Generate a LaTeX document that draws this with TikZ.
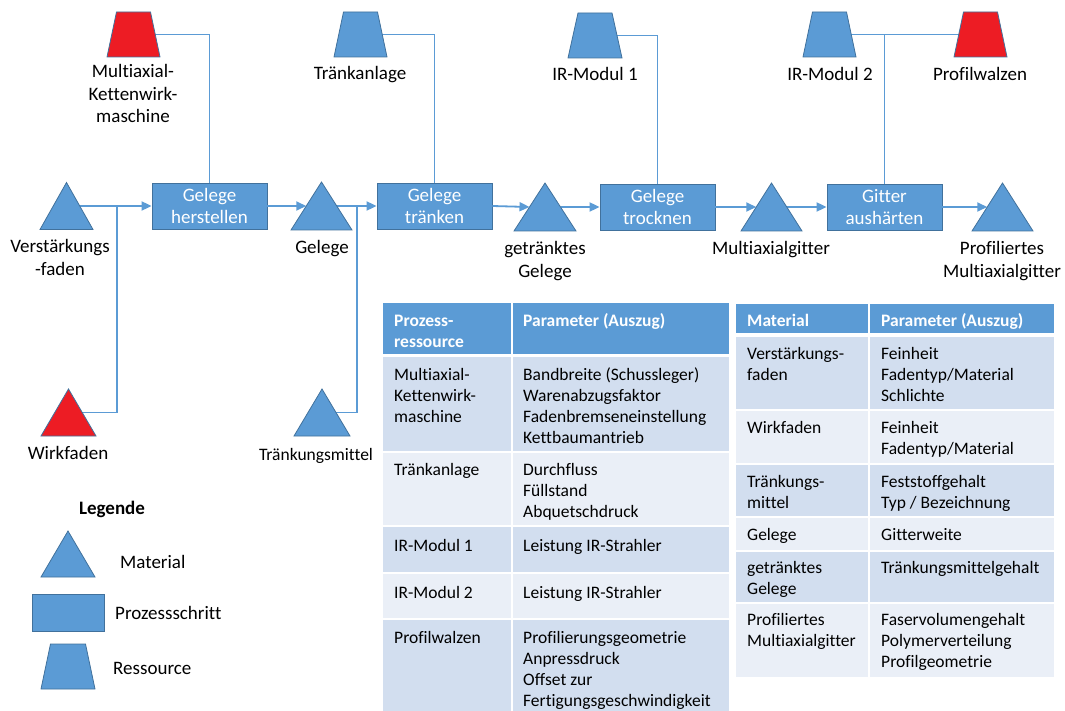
\documentclass[tikz,border=0pt]{standalone}
\usepackage{fontspec}
\setmainfont[Ligatures={NoCommon,NoRequired,NoContextual}]{Carlito}
\usetikzlibrary{arrows.meta,calc}
\definecolor{sb}{HTML}{5B9BD5}
\definecolor{so}{HTML}{41719C}
\definecolor{sr}{HTML}{ED1C24}
\definecolor{rowd}{HTML}{D2DEEF}
\definecolor{rowl}{HTML}{EAEFF7}
\newcommand\dfs{\fontsize{17.5pt}{21pt}\selectfont}
\newcommand\lfs{\fontsize{19pt}{22.5pt}\selectfont}
\begin{document}
\begin{tikzpicture}[x=1pt,y=-1pt,font=\dfs,
  hold/.style 2 args={inner sep=0pt,outer sep=0pt,minimum width=#1,minimum height=#2},
  shpfill/.style={fill=#1,draw=so,line width=0.8pt,line join=miter},
  proc/.style={draw=so,fill=sb,line width=0.8pt,text=white,minimum width=115pt,minimum height=46pt,inner sep=0pt,align=center,font=\lfs},
  flow/.style={draw=sb,line width=1.8pt,-{Triangle[length=10pt,width=9pt]}},
  feed/.style={draw=sb,line width=1.8pt},
  res/.style={draw=sb,line width=1.2pt},
  lbl/.style={anchor=base,align=center,inner sep=0pt,font=\lfs},
  tl/.style={anchor=base west,align=left,inner sep=0pt},
  th/.style={tl,text=white,font=\dfs\bfseries}]
\useasboundingbox (0,0) rectangle (1065,711);

% ---------- holders for materials and resources ----------
\node[hold={53pt}{47pt}] (vf) at (66.5,206) {};
\node[hold={61pt}{48pt}] (gel) at (321.5,206) {};
\node[hold={62pt}{48pt}] (gg) at (545,207) {};
\node[hold={61pt}{48pt}] (mg) at (771.5,207) {};
\node[hold={61pt}{48pt}] (pm) at (1002.5,207) {};
\node[hold={55pt}{47pt}] (wf) at (68.5,412.5) {};
\node[hold={56pt}{47pt}] (tm) at (322,412.5) {};
\node[hold={54pt}{46pt}] (lm) at (68,554) {};

\node[hold={53pt}{45pt}] (mk) at (133.5,34.5) {};
\node[hold={53pt}{45pt}] (tk) at (360.5,34.5) {};
\node[hold={54pt}{45pt}] (ir1) at (595,35.5) {};
\node[hold={53pt}{45pt}] (ir2) at (829.5,34.5) {};
\node[hold={53pt}{45pt}] (pw) at (980.5,34.5) {};
\node[hold={54pt}{45pt}] (lr) at (68,666.5) {};

% ---------- process steps ----------
\node[proc] (gh) at (209.5,206) {Gelege\\herstellen};
\node[proc] (gt) at (434.5,206) {Gelege\\tränken};
\node[proc] (gtr) at (657.5,207) {Gelege\\trocknen};
\node[proc] (ga) at (884.5,207) {Gitter\\aushärten};

% ---------- connectors ----------
\coordinate (j1) at (117,206);
\coordinate (j2) at (357,206);
\draw[flow] ($(vf.north)!0.5!(vf.south east)$) -- (gh.west);
\draw[feed] ($(wf.north)!0.5!(wf.south east)$) -| (j1);
\draw[flow] (gh.east) -- ($(gel.north)!0.5!(gel.south west)$);
\draw[flow] ($(gel.north)!0.5!(gel.south east)$) -- (gt.west);
\draw[feed] ($(tm.north)!0.5!(tm.south east)$) -| (j2);
\draw[flow] (gt.east) -- ($(gg.north)!0.5!(gg.south west)$);
\draw[flow] ($(gg.north)!0.5!(gg.south east)$) -- (gtr.west);
\draw[flow] (gtr.east) -- ($(mg.north)!0.5!(mg.south west)$);
\draw[flow] ($(mg.north)!0.5!(mg.south east)$) -- (ga.west);
\draw[flow] (ga.east) -- ($(pm.north)!0.5!(pm.south west)$);

\draw[res] ($(mk.south east)!0.5!([xshift=-9.5pt]mk.north east)$) -| (gh.north);
\draw[res] ($(tk.south east)!0.5!([xshift=-9.5pt]tk.north east)$) -| (gt.north);
\draw[res] ($(ir1.south east)!0.5!([xshift=-10pt]ir1.north east)$) -| (gtr.north);
\draw[res] ($(ir2.south east)!0.5!([xshift=-9.5pt]ir2.north east)$) -- ($(pw.south west)!0.5!([xshift=9.5pt]pw.north west)$);
\draw[res] (ga.north) -- (ga.north |- ir2.center);

% ---------- shapes ----------
\foreach \n in {vf,gel,gg,mg,pm,tm,lm}
  \draw[shpfill=sb] (\n.south west) -- (\n.north) -- (\n.south east) -- cycle;
\draw[shpfill=sr] (wf.south west) -- (wf.north) -- (wf.south east) -- cycle;
\foreach \n in {tk,ir2,lr}
  \draw[shpfill=sb] (\n.south west) -- ([xshift=9.5pt]\n.north west) -- ([xshift=-9.5pt]\n.north east) -- (\n.south east) -- cycle;
\draw[shpfill=sb] (ir1.south west) -- ([xshift=10pt]ir1.north west) -- ([xshift=-10pt]ir1.north east) -- (ir1.south east) -- cycle;
\foreach \n in {mk,pw}
  \draw[shpfill=sr] (\n.south west) -- ([xshift=9.5pt]\n.north west) -- ([xshift=-9.5pt]\n.north east) -- (\n.south east) -- cycle;

% ---------- labels (base = baseline of last line) ----------
\node[lbl] (l-mk) at (133,123) {Multiaxial-\\Kettenwirk-\\maschine};
\node[lbl] (l-tk) at (360,80) {Tränkanlage};
\node[lbl] (l-ir1) at (595,81) {IR-Modul 1};
\node[lbl] (l-ir2) at (830,81) {IR-Modul 2};
\node[lbl] (l-pw) at (980,81) {Profilwalzen};
\node[lbl] (l-vf) at (60,275.5) {Verstärkungs\\-faden};
\node[lbl] (l-gel) at (322,254) {Gelege};
\node[lbl] (l-gg) at (545,277.5) {getränktes\\Gelege};
\node[lbl] (l-mg) at (771,255) {Multiaxialgitter};
\node[lbl] (l-pm) at (1002,277.5) {Profiliertes\\Multiaxialgitter};
\node[lbl] (l-wf) at (68,459) {Wirkfaden};
\node[lbl,font=\dfs] (l-tm) at (316,460) {Tränkungsmittel};

% ---------- legend ----------
\node[lbl,font=\lfs\bfseries] (leg) at (112,514) {Legende};
\node[proc,minimum width=72pt,minimum height=37pt] (lp) at (68,612.5) {};
\node[tl,font=\lfs] (leg-m) at (120,568) {Material};
\node[tl,font=\lfs] (leg-p) at (115,619) {Prozessschritt};
\node[tl,font=\lfs] (leg-r) at (113,674) {Ressource};

% ---------- left table ----------
\fill[sb] (383,303) rectangle (511,354);
\fill[sb] (513,303) rectangle (729,354);
\fill[rowd] (383,357) rectangle (511,451);
\fill[rowd] (513,357) rectangle (729,451);
\fill[rowl] (383,453) rectangle (511,525);
\fill[rowl] (513,453) rectangle (729,525);
\fill[rowd] (383,527) rectangle (511,572);
\fill[rowd] (513,527) rectangle (729,572);
\fill[rowl] (383,574) rectangle (511,618);
\fill[rowl] (513,574) rectangle (729,618);
\fill[rowd] (383,620) rectangle (511,711);
\fill[rowd] (513,620) rectangle (729,711);

\node[th] (a0) at (394,347) {Prozess-\\ressource};
\node[th] (b0) at (523,326) {Parameter (Auszug)};
\node[tl] (a1) at (394,422) {Multiaxial-\\Kettenwirk-\\maschine};
\node[tl] (b1) at (523,443) {Bandbreite (Schussleger)\\Warenabzugsfaktor\\Fadenbremseneinstellung\\Kettbaumantrieb};
\node[tl] (a2) at (394,475) {Tränkanlage};
\node[tl] (b2) at (523,517) {Durchfluss\\Füllstand\\Abquetschdruck};
\node[tl] (a3) at (394,551) {IR-Modul 1};
\node[tl] (b3) at (523,551) {Leistung IR-Strahler};
\node[tl] (a4) at (394,598) {IR-Modul 2};
\node[tl] (b4) at (523,598) {Leistung IR-Strahler};
\node[tl] (a5) at (394,643) {Profilwalzen};
\node[tl] (b5) at (523,706) {Profilierungsgeometrie\\Anpressdruck\\Offset zur\\Fertigungsgeschwindigkeit};

% ---------- right table ----------
\fill[sb] (736,304) rectangle (868,333);
\fill[sb] (870,304) rectangle (1054,333);
\fill[rowd] (736,337) rectangle (868,409);
\fill[rowd] (870,337) rectangle (1054,409);
\fill[rowl] (736,411) rectangle (868,463);
\fill[rowl] (870,411) rectangle (1054,463);
\fill[rowd] (736,465) rectangle (868,516);
\fill[rowd] (870,465) rectangle (1054,516);
\fill[rowl] (736,518) rectangle (868,550);
\fill[rowl] (870,518) rectangle (1054,550);
\fill[rowd] (736,552) rectangle (868,602);
\fill[rowd] (870,552) rectangle (1054,602);
\fill[rowl] (736,604) rectangle (868,677);
\fill[rowl] (870,604) rectangle (1054,677);

\node[th] (c0) at (747,326) {Material};
\node[th] (d0) at (881,326) {Parameter (Auszug)};
\node[tl] (c1) at (747,380) {Verstärkungs-\\faden};
\node[tl] (d1) at (881,401) {Feinheit\\Fadentyp/Material\\Schlichte};
\node[tl] (c2) at (747,433) {Wirkfaden};
\node[tl] (d2) at (881,454) {Feinheit\\Fadentyp/Material};
\node[tl] (c3) at (747,508) {Tränkungs-\\mittel};
\node[tl] (d3) at (881,508) {Feststoffgehalt\\Typ / Bezeichnung};
\node[tl] (c4) at (747,540) {Gelege};
\node[tl] (d4) at (881,540) {Gitterweite};
\node[tl] (c5) at (747,594) {getränktes\\Gelege};
\node[tl] (d5) at (881,573) {Tränkungsmittelgehalt};
\node[tl] (c6) at (747,646) {Profiliertes\\Multiaxialgitter};
\node[tl] (d6) at (881,667) {Faservolumengehalt\\Polymerverteilung\\Profilgeometrie};
\end{tikzpicture}
\end{document}
